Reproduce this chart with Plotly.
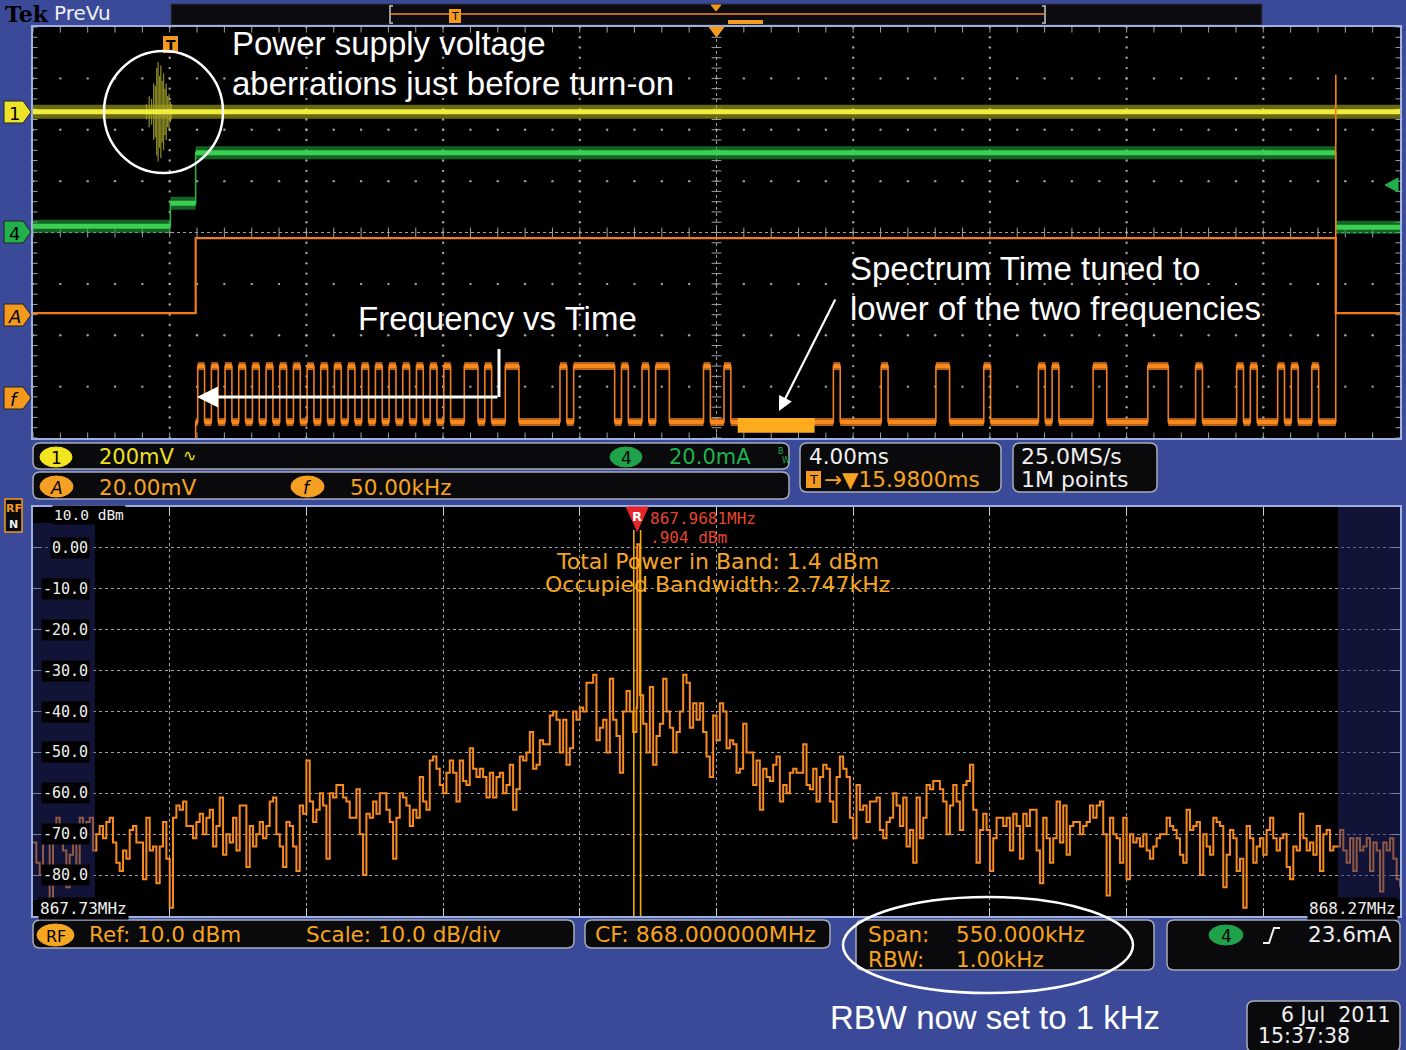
import plotly.graph_objects as go

W, H = 1406, 1050
def px(x): return x / W
def py(y): return 1 - y / H

# ---------------- data ----------------
time_range_ms = [-4.02, 35.98]          # 4.00 ms/div, centre 15.98 ms
ch1_level_div = 2.35
burst_t_ms = [-0.70, -0.62, -0.55, -0.49, -0.44, -0.40, -0.36, -0.32, -0.28, -0.24,
              -0.20, -0.16, -0.12, -0.08, -0.04, 0.00, 0.03]
burst_amp_div = [0.15, 0.30, 0.25, 0.55, 0.50, 0.85, 0.97, 0.70, 0.90, 0.60,
                 0.75, 0.45, 0.55, 0.30, 0.35, 0.20, 0.15]
ch1_off_spike_ms = 34.1
ch1_off_spike_div = [2.95, 1.75]
ch4_t_ms = [-4.02, 0.0, 0.0, 0.74, 0.74, 34.1, 34.1, 35.98]
ch4_div = [0.12, 0.12, 0.57, 0.57, 1.55, 1.55, 0.10, 0.10]
mathA_t_ms = [-4.02, 0.74, 0.74, 34.1, 34.1, 35.98]
mathA_div = [-1.57, -1.57, -0.11, -0.11, -1.57, -1.57]
freq_on_ms = 0.74
freq_off_ms = 34.1
freq_low_div = -3.69
freq_high_div = -2.60
freq_off_div = 3.07
freq_high_start_ms = [0.8, 1.2, 1.6, 2.0, 2.4, 2.8, 3.2, 3.6, 4.0, 4.4, 4.8, 5.2, 5.6, 6.0,
                      6.4, 6.8, 7.2, 7.6, 8.0, 8.6, 9.2, 9.8, 11.4, 11.8, 13.2, 13.8, 14.2,
                      15.6, 16.2, 19.4, 20.8, 22.4, 23.8, 25.4, 25.8, 27.0, 28.6, 30.0,
                      31.2, 31.6, 32.4, 32.8, 33.4]
freq_high_end_ms = [1.0, 1.4, 1.8, 2.2, 2.6, 3.0, 3.4, 3.8, 4.2, 4.6, 5.0, 5.4, 5.8, 6.2,
                    6.6, 7.0, 7.4, 7.8, 8.2, 9.0, 9.4, 10.2, 11.6, 13.0, 13.4, 14.0, 14.6,
                    15.8, 16.4, 19.6, 21.0, 22.8, 24.0, 25.6, 26.0, 27.4, 29.2, 30.2,
                    31.4, 31.8, 32.6, 33.0, 33.6]
spectrum_time_ms = [16.6, 18.85]

span_start_mhz = 867.725
span_stop_mhz = 868.275
ref_dbm = 10.0
bottom_dbm = -90.0
marker_freq_mhz = 867.9681
marker_dbm = 0.904
obw_khz = 2.747
db_tick_labels = ["0.00", "-10.0", "-20.0", "-30.0", "-40.0", "-50.0", "-60.0", "-70.0", "-80.0"]
db_tick_values = [0, -10, -20, -30, -40, -50, -60, -70, -80]

spec_dbm = [
    -72, -77, -80, -71, -72, -86, -70, -66, -68, -74,
    -83, -75, -71, -79, -66, -70, -67, -66, -74, -70,
    -68, -71, -67, -66, -72, -77, -79, -74, -76, -69,
    -68, -72, -72, -81, -66, -74, -73, -82, -73, -67,
    -76, -88, -66, -63, -64, -62, -68, -68, -71, -67,
    -65, -70, -66, -64, -73, -68, -61, -75, -70, -72,
    -66, -74, -63, -63, -78, -68, -73, -70, -67, -71,
    -68, -62, -61, -70, -73, -78, -67, -68, -73, -79,
    -63, -65, -52, -62, -67, -64, -60, -63, -76, -60,
    -61, -58, -58, -61, -62, -66, -66, -59, -70, -80,
    -65, -66, -62, -65, -60, -60, -64, -67, -76, -66,
    -60, -61, -63, -68, -64, -66, -56, -62, -64, -52,
    -51, -54, -58, -60, -55, -52, -55, -62, -52, -57,
    -58, -49, -54, -56, -54,
    -56, -61, -55, -61, -56, -55, -60, -58, -53, -64,
    -59, -51, -52, -50, -45, -54, -53, -47, -48, -48,
    -41, -40, -42, -50, -42, -53, -49, -40, -42, -39,
    -40, -33, -33, -31, -47, -44, -42, -50, -32, -42,
    -46, -55, -40, -35, -40, -45, -39, -36, -43, -50,
    -34, -53, -46, -43, -32, -40, -44, -50, -45, -40,
    -31, -33, -44, -38, -42, -38, -45, -51, -56, -41,
    -47, -38, -40, -49, -47, -48, -55, -54, -43, -50,
    -50, -58, -52, -64, -54, -56, -57, -53, -51, -62,
    -58, -60, -55, -54, -55, -55, -48, -58, -59, -54,
    -62, -56, -53, -54, -62, -67, -56, -51, -54, -56,
    -66, -71, -58, -64, -63, -67, -62, -62, -61, -69,
    -71, -67, -66, -60, -63, -68, -61, -73, -69, -77,
    -61, -71, -66, -58, -59,
    -57, -57, -59, -62, -70, -63, -58, -62, -69, -58,
    -57, -53, -64, -77, -69, -65, -69, -79, -71, -66,
    -66, -68, -66, -74, -65, -68, -76, -65, -68, -64,
    -64, -74, -82, -66, -71, -77, -71, -62, -72, -63,
    -75, -68, -67, -67, -70, -68, -67, -63, -66, -63,
    -62, -70, -85, -66, -70, -71, -77, -66, -81, -70,
    -72, -71, -73, -70, -74, -76, -73, -71, -70, -70,
    -66, -68, -69, -71, -75, -77, -64, -69, -68, -67,
    -80, -70, -73, -75, -66, -67, -68, -83, -75, -69,
    -71, -79, -76, -88, -68, -71, -77, -73, -71, -75,
    -69, -66, -71, -74, -71, -70, -78, -81, -73, -74,
    -65, -71, -74, -72, -75, -68, -79, -70, -69, -74,
    -73, -73, -69, -74, -77, -71, -79, -71, -74, -73,
    -71, -79, -72, -74, -84, -72, -74, -71, -76, -81,
    -83,
]

# ---------------- fonts / colours ----------------
BG = '#3b4a98'
BORDER = '#9db0e0'
GRID = '#a0a0a0'
READ = 'DejaVu Sans'
MONO = 'DejaVu Sans Mono'
NOTE = 'Liberation Sans'
YEL = '#efe11f'
GRN = '#1fb04c'
ORG = '#f6a31f'
WHT = '#f0f0f0'

fig = go.Figure()
shapes, annotations = [], []

def txt(x, y, s, color, size, family=READ, xanchor='left', bg=None, italic=False):
    a = dict(x=px(x), y=py(y), xref='paper', yref='paper', text=s, showarrow=False,
             xanchor=xanchor, yanchor='middle',
             font=dict(color=color, size=size, family=family,
                       style='italic' if italic else 'normal'))
    if bg:
        a['bgcolor'] = bg
    annotations.append(a)

def rrect(x0, y0, x1, y1, r=7, fill='#0a0a0c', line='#a8acb8', width=1.5):
    X, Y = px, py
    path = (f"M {X(x0+r)},{Y(y0)} L {X(x1-r)},{Y(y0)} Q {X(x1)},{Y(y0)} {X(x1)},{Y(y0+r)} "
            f"L {X(x1)},{Y(y1-r)} Q {X(x1)},{Y(y1)} {X(x1-r)},{Y(y1)} L {X(x0+r)},{Y(y1)} "
            f"Q {X(x0)},{Y(y1)} {X(x0)},{Y(y1-r)} L {X(x0)},{Y(y0+r)} Q {X(x0)},{Y(y0)} {X(x0+r)},{Y(y0)} Z")
    shapes.append(dict(type='path', xref='paper', yref='paper', path=path,
                       fillcolor=fill, line=dict(color=line, width=width)))

def rect(x0, y0, x1, y1, fill, line=None, lw=0, layer='above'):
    shapes.append(dict(type='rect', xref='paper', yref='paper', x0=px(x0), x1=px(x1),
                       y0=py(y1), y1=py(y0), fillcolor=fill,
                       line=dict(color=line or fill, width=lw), layer=layer))

def pill(x0, y0, x1, y1, fill, s, size=16, italic=False, tcolor='black'):
    shapes.append(dict(type='circle', xref='paper', yref='paper', x0=px(x0), x1=px(x1),
                       y0=py(y1), y1=py(y0), fillcolor=fill, line=dict(color=fill, width=1)))
    txt((x0 + x1) / 2, (y0 + y1) / 2 + 1, s, tcolor, size, xanchor='center', italic=italic)

def poly(pts, fill, line=None, lw=1):
    path = 'M ' + ' L '.join(f"{px(a)},{py(b)}" for a, b in pts) + ' Z'
    shapes.append(dict(type='path', xref='paper', yref='paper', path=path,
                       fillcolor=fill, line=dict(color=line or fill, width=lw)))

def pline(pts, color, lw):
    path = 'M ' + ' L '.join(f"{px(a)},{py(b)}" for a, b in pts)
    shapes.append(dict(type='path', xref='paper', yref='paper', path=path,
                       line=dict(color=color, width=lw)))

def plateaus(xs, ys):
    ox, oy = [], []
    for i in range(len(xs) - 1):
        if ys[i] == ys[i + 1] and xs[i] != xs[i + 1]:
            ox += [xs[i], xs[i + 1], None]; oy += [ys[i], ys[i + 1], None]
    return ox, oy

# ---------------- top panel graticule ----------------
t0, t1 = time_range_ms
div_ms = (t1 - t0) / 10
tc = t0 + 5 * div_ms
gx, gy = [], []
for n in range(1, 10):
    if n == 5:
        continue
    for k in range(41):
        gx.append(t0 + n * div_ms); gy.append(-4 + 0.2 * k)
for m in range(-3, 4):
    if m == 0:
        continue
    for k in range(51):
        gx.append(t0 + 0.2 * div_ms * k); gy.append(m)
fig.add_trace(go.Scatter(x=gx, y=gy, mode='markers', marker=dict(size=2.4, color=GRID),
                         hoverinfo='skip', cliponaxis=False))
fig.add_trace(go.Scatter(x=[tc, tc], y=[-4, 4], mode='lines',
                         line=dict(color=GRID, width=1, dash='dot'), hoverinfo='skip'))
fig.add_trace(go.Scatter(x=[t0, t1], y=[0, 0], mode='lines',
                         line=dict(color=GRID, width=1, dash='dot'), hoverinfo='skip'))
fig.add_trace(go.Scatter(x=[tc] * 41, y=[-4 + 0.2 * k for k in range(41)], mode='markers',
                         marker=dict(symbol='line-ew', size=7, line=dict(color=GRID, width=1)),
                         hoverinfo='skip', cliponaxis=False))
fig.add_trace(go.Scatter(x=[t0 + 0.2 * div_ms * k for k in range(51)], y=[0] * 51, mode='markers',
                         marker=dict(symbol='line-ns', size=7, line=dict(color=GRID, width=1)),
                         hoverinfo='skip', cliponaxis=False))
bx = [t0 + 0.2 * div_ms * k for k in range(51)]
fig.add_trace(go.Scatter(x=bx + bx, y=[3.96] * 51 + [-3.96] * 51, mode='markers',
                         marker=dict(symbol='line-ns', size=5, line=dict(color=GRID, width=1)),
                         hoverinfo='skip', cliponaxis=False))
by = [-4 + 0.2 * k for k in range(41)]
fig.add_trace(go.Scatter(x=[t0 + 0.03] * 41 + [t1 - 0.03] * 41, y=by + by, mode='markers',
                         marker=dict(symbol='line-ew', size=5, line=dict(color=GRID, width=1)),
                         hoverinfo='skip', cliponaxis=False))

# ---------------- top panel traces ----------------
fig.add_trace(go.Scatter(x=[t0, t1], y=[ch1_level_div] * 2, mode='lines',
                         line=dict(color='rgba(205,205,40,0.5)', width=14), hoverinfo='skip'))
bxs, bys = [], []
for t, a in zip(burst_t_ms, burst_amp_div):
    bxs += [t, t, None]; bys += [ch1_level_div - a, ch1_level_div + a, None]
bxs += [ch1_off_spike_ms, ch1_off_spike_ms, None]; bys += ch1_off_spike_div + [None]
fig.add_trace(go.Scatter(x=bxs, y=bys, mode='lines',
                         line=dict(color='rgba(165,165,45,0.8)', width=1.3), hoverinfo='skip'))
fig.add_trace(go.Scatter(x=[t0, t1], y=[ch1_level_div] * 2, mode='lines',
                         line=dict(color='#f1ee3a', width=5), hoverinfo='skip'))
# channel 4 (green)
gpx, gpy = plateaus(ch4_t_ms, ch4_div)
fig.add_trace(go.Scatter(x=gpx, y=gpy, mode='lines',
                         line=dict(color='rgba(30,165,60,0.6)', width=13), hoverinfo='skip'))
fig.add_trace(go.Scatter(x=ch4_t_ms, y=ch4_div, mode='lines',
                         line=dict(color='#2fb544', width=1.5), hoverinfo='skip'))
fig.add_trace(go.Scatter(x=gpx, y=gpy, mode='lines',
                         line=dict(color='#3ccf50', width=5), hoverinfo='skip'))
# math A (orange)
fig.add_trace(go.Scatter(x=mathA_t_ms, y=mathA_div, mode='lines',
                         line=dict(color='#f27c1c', width=2.2), hoverinfo='skip'))
# frequency vs time
fx, fy = [freq_on_ms, freq_on_ms], [-4, freq_low_div]
for s, e in zip(freq_high_start_ms, freq_high_end_ms):
    fx += [s, s, e, e]; fy += [freq_low_div, freq_high_div, freq_high_div, freq_low_div]
fx += [freq_off_ms, freq_off_ms]; fy += [freq_low_div, freq_off_div]
fpx, fpy = plateaus(fx, fy)
fig.add_trace(go.Scatter(x=fx, y=fy, mode='lines',
                         line=dict(color='#f07d1c', width=1.6), hoverinfo='skip'))
fig.add_trace(go.Scatter(x=fpx, y=fpy, mode='lines',
                         line=dict(color='rgba(240,130,30,0.75)', width=8), hoverinfo='skip'))
fig.add_trace(go.Scatter(x=fpx, y=fpy, mode='lines',
                         line=dict(color='#f8891f', width=4), hoverinfo='skip'))
shapes.append(dict(type='rect', xref='x', yref='y', x0=spectrum_time_ms[0], x1=spectrum_time_ms[1],
                   y0=-3.90, y1=-3.61, fillcolor='#ffab1e', line=dict(width=0)))

# ---------------- spectrum ----------------
n = len(spec_dbm)
step = (span_stop_mhz - span_start_mhz) / (n - 1)
sf = [span_start_mhz + k * step for k in range(n)]
sd = list(spec_dbm)
ins = next(i for i, f in enumerate(sf) if f > marker_freq_mhz)
sf.insert(ins, marker_freq_mhz); sd.insert(ins, marker_dbm)
fig.add_trace(go.Scatter(x=sf, y=sd, mode='lines', line=dict(color='#f78a1e', width=2, shape='hv'),
                         xaxis='x2', yaxis='y2', hoverinfo='skip'))
for f in [marker_freq_mhz - obw_khz / 2000, marker_freq_mhz + obw_khz / 2000]:
    shapes.append(dict(type='line', xref='x2', yref='y2', x0=f, x1=f, y0=bottom_dbm, y1=4.4,
                       line=dict(color='#f2a900', width=1.6)))

rect(33, 523, 95, 900, 'rgba(36,40,110,0.5)')
rect(1338, 507, 1400, 900, 'rgba(36,40,110,0.5)')

mx = 33 + (marker_freq_mhz - span_start_mhz) / (span_stop_mhz - span_start_mhz) * 1367
poly([(mx - 11, 507), (mx + 11, 507), (mx, 531)], '#e8242a')
txt(mx, 516, '<b>R</b>', 'white', 13, xanchor='center')
txt(mx + 11, 519, '867.9681MHz', '#e5452c', 16, family=MONO)
txt(mx + 11, 537, '.904 dBm', '#e5452c', 16, family=MONO)
txt(717, 561, 'Total Power in Band: 1.4 dBm', '#f4a623', 22, xanchor='center')
txt(717, 584, 'Occupied Bandwidth: 2.747kHz', '#f4a623', 22, xanchor='center')

txt(52, 515, '10.0 dBm', WHT, 14.5, family=MONO, bg='black')
for v, s in zip(db_tick_values, db_tick_labels):
    annotations.append(dict(x=px(90), y=v, xref='paper', yref='y2', text=s, showarrow=False,
                            xanchor='right', yanchor='middle', bgcolor='black',
                            font=dict(color=WHT, size=15, family=MONO)))
txt(38, 908, '867.73MHz', WHT, 16, family=MONO, bg='black')
txt(1398, 908, '868.27MHz', WHT, 16, family=MONO, xanchor='right', bg='black')

# ---------------- header ----------------
rect(171, 4, 1262, 25, '#0c0c10', line='#30344a', lw=1, layer='below')
pline([(393, 6), (390, 6), (390, 23), (393, 23)], '#9a9a9a', 2)
pline([(1042, 6), (1045, 6), (1045, 23), (1042, 23)], '#9a9a9a', 2)
pline([(390, 14), (1045, 14)], '#f08a1e', 1.5)
rect(449, 9, 461, 23, '#f39a1e')
txt(455, 16, 'T', 'black', 11, xanchor='center')
poly([(711, 5), (721, 5), (716, 11)], '#f39a1e')
rect(728, 20, 763, 24, '#f39a1e')
txt(3, 14, '<b>Tek</b>', 'black', 22, family='DejaVu Serif')
txt(52, 13, 'PreVu', WHT, 20)

rect(163, 36, 178, 53, '#f39a1e')
txt(170.5, 45, '<b>T</b>', 'black', 14, xanchor='center')
poly([(709, 27), (724, 27), (716.5, 37)], '#f39a1e')
poly([(1398, 178), (1398, 192), (1385, 185)], GRN)

def chmark(y, fill, s, italic=False):
    poly([(4, y - 11), (23, y - 11), (31, y), (23, y + 11), (4, y + 11)], fill, line='#222', lw=1)
    txt(14, y + 1, s, 'black', 18, xanchor='center', italic=italic)
chmark(112, '#eee22a', '1')
chmark(232, '#22b04a', '4')
chmark(315, '#f39a1e', 'A', italic=True)
chmark(398, '#f39a1e', 'f', italic=True)
rect(5, 499, 22, 532, '#0a0a0a', line='#f39a1e', lw=1.5)
txt(13.5, 508, '<b>RF</b>', '#f39a1e', 11, xanchor='center')
txt(13.5, 524, '<b>N</b>', WHT, 11, xanchor='center')

# ---------------- readout boxes ----------------
RS = 21.5
rrect(33, 443, 789, 469)
rrect(33, 472, 789, 499)
rrect(800, 443, 1001, 492)
rrect(1013, 443, 1157, 492)
pill(40, 447, 72, 467, '#f2e51d', '1', 17)
txt(97, 457, '200mV', YEL, 21)
txt(181, 455, '∿', YEL, 16)
pill(610, 447, 642, 467, '#1fa24a', '4', 17)
txt(667, 457, '20.0mA', GRN, 21)
txt(776, 451, 'B', GRN, 8)
txt(780, 461, 'W', GRN, 8)
pill(40, 476, 73, 497, '#f5a023', 'A', 17, italic=True)
txt(97, 487, '20.00mV', ORG, RS)
pill(291, 476, 324, 497, '#f5a023', 'f', 17, italic=True)
txt(348, 487, '50.00kHz', ORG, RS)
txt(807, 456, '4.00ms', WHT, RS)
rect(806, 471, 821, 488, '#f39a1e')
txt(813.5, 480, 'T', 'black', 13, xanchor='center')
txt(822, 479, '→▼15.9800ms', ORG, RS)
txt(1019, 456, '25.0MS/s', WHT, 22)
txt(1019, 479, '1M points', WHT, 22)

rrect(33, 920, 574, 948)
rrect(585, 920, 830, 948)
rrect(856, 920, 1154, 970)
rrect(1167, 920, 1400, 970)
rrect(1247, 1001, 1400, 1052)
pill(37, 924, 74, 946, '#f5a623', 'RF', 16)
txt(87, 935, 'Ref: 10.0 dBm', ORG, RS)
txt(304, 935, 'Scale: 10.0 dB/div', ORG, RS)
txt(593, 935, 'CF: 868.000000MHz', ORG, 22)
txt(866, 935, 'Span:', ORG, RS)
txt(954, 935, '550.000kHz', ORG, RS)
txt(866, 959, 'RBW:', ORG, RS)
txt(954, 959, '1.00kHz', ORG, RS)
pill(1209, 925, 1243, 945, '#1fa24a', '4', 17)
pline([(1263, 943), (1269, 943), (1274, 928), (1280, 928)], WHT, 2)
txt(1394, 935, '23.6mA', WHT, RS, xanchor='right')
txt(1393, 1015, '6 Jul\u00a0\u00a02011', WHT, 20.5, xanchor='right')
txt(1256, 1036, '15:37:38', WHT, 20.5)

# ---------------- call-outs ----------------
shapes.append(dict(type='circle', xref='paper', yref='paper', x0=px(104), x1=px(223),
                   y0=py(173), y1=py(51), line=dict(color='white', width=2.5)))
shapes.append(dict(type='circle', xref='paper', yref='paper', x0=px(843), x1=px(1133),
                   y0=py(993), y1=py(897), line=dict(color='white', width=2.5)))
NS = 33
txt(230, 44, 'Power supply voltage', 'white', NS, family=NOTE)
txt(230, 84, 'aberrations just before turn-on', 'white', NS, family=NOTE)
txt(356, 318, 'Frequency vs Time', 'white', NS, family=NOTE)
txt(848, 268, 'Spectrum Time tuned to', 'white', NS, family=NOTE)
txt(848, 308, 'lower of the two frequencies', 'white', NS, family=NOTE)
txt(828, 1017, 'RBW now set to 1 kHz', 'white', NS, family=NOTE)
pline([(499, 349), (499, 397)], 'white', 3)
annotations.append(dict(x=px(197), y=py(397), xref='paper', yref='paper', ax=302, ay=0,
                        axref='pixel', ayref='pixel', text='', showarrow=True, arrowhead=2,
                        arrowsize=1.4, arrowwidth=3, arrowcolor='white'))
annotations.append(dict(x=px(779), y=py(411), xref='paper', yref='paper', ax=57, ay=-113,
                        axref='pixel', ayref='pixel', text='', showarrow=True, arrowhead=2,
                        arrowsize=1.3, arrowwidth=2.2, arrowcolor='white'))

# ---------------- layout ----------------
ax_common = dict(showticklabels=False, zeroline=False, fixedrange=True, showline=True,
                 linecolor=BORDER, linewidth=2, mirror=True)
fig.update_layout(
    width=W, height=H, margin=dict(l=0, r=0, t=0, b=0),
    paper_bgcolor=BG, plot_bgcolor='black', showlegend=False,
    xaxis=dict(domain=[px(33), px(1400)], range=time_range_ms, showgrid=False, anchor='y',
               ticks='', **ax_common),
    yaxis=dict(domain=[py(438), py(27)], range=[-4, 4], showgrid=False, anchor='x',
               ticks='', **ax_common),
    xaxis2=dict(domain=[px(33), px(1400)], range=[span_start_mhz, span_stop_mhz], anchor='y2',
                showgrid=True, gridcolor=GRID, griddash='dot', gridwidth=1,
                tick0=span_start_mhz, dtick=(span_stop_mhz - span_start_mhz) / 10,
                ticks='inside', ticklen=8, tickcolor='#d0d0d0', **{**ax_common, 'mirror': 'ticks'}),
    yaxis2=dict(domain=[py(916), py(507)], range=[bottom_dbm, ref_dbm], anchor='x2',
                showgrid=True, gridcolor=GRID, griddash='dot', gridwidth=1,
                tick0=0, dtick=10, ticks='inside', ticklen=8, tickcolor='#d0d0d0',
                **{**ax_common, 'mirror': 'ticks'}),
    shapes=shapes, annotations=annotations,
)
fig.write_html('out.html', config={'displayModeBar': False},
               post_script="document.body.style.margin='0';document.body.style.overflow='hidden';")
